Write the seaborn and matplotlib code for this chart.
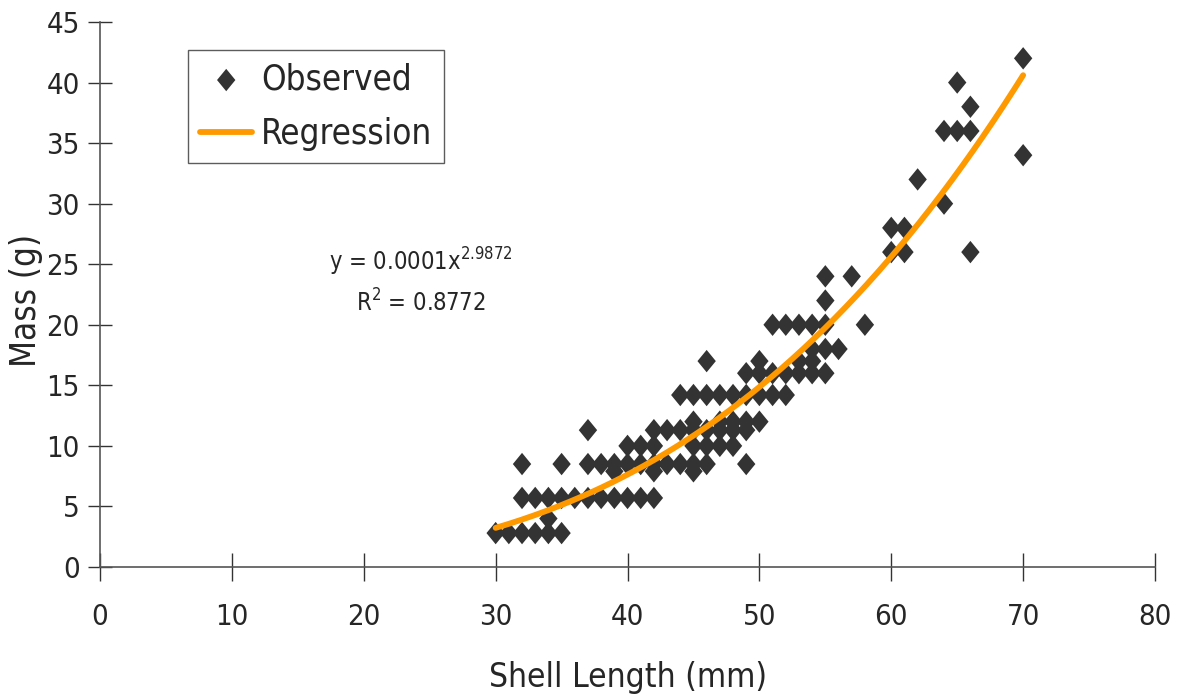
import numpy as np
import pandas as pd
import matplotlib.pyplot as plt
import seaborn as sns

# shell length (mm) and mass (g)
shell_length = [
    30, 31, 32, 32, 32, 33, 33, 34, 34, 34, 35, 35, 35,
    36, 37, 37, 37, 38, 38, 39, 39, 39, 40, 40, 40,
    41, 41, 41, 42, 42, 42, 42, 42, 43, 43, 44, 44, 44,
    45, 45, 45, 45, 45, 45, 46, 46, 46, 46, 46,
    47, 47, 47, 47, 48, 48, 48, 48, 49, 49, 49, 49, 49,
    50, 50, 50, 50, 51, 51, 51, 52, 52, 52, 53, 53, 53,
    54, 54, 54, 54, 55, 55, 55, 55, 55, 56, 57, 58,
    60, 60, 61, 61, 62, 64, 64, 65, 65, 66, 66, 66, 70, 70,
]
mass = [
    2.8, 2.8, 2.8, 5.7, 8.5, 2.8, 5.7, 2.8, 4.0, 5.7, 2.8, 5.7, 8.5,
    5.7, 5.7, 8.5, 11.3, 5.7, 8.5, 5.7, 7.9, 8.5, 5.7, 8.5, 10,
    5.7, 8.5, 10, 5.7, 7.9, 8.5, 10, 11.3, 8.5, 11.3, 8.5, 11.3, 14.2,
    7.9, 8.5, 10, 11.3, 12, 14.2, 8.5, 10, 11.3, 14.2, 17,
    10, 11.3, 12, 14.2, 10, 11.3, 12, 14.2, 8.5, 11.3, 12, 14.2, 16,
    12, 14.2, 16, 17, 14.2, 16, 20, 14.2, 16, 20, 16, 17, 20,
    16, 17, 18, 20, 16, 18, 20, 22, 24, 18, 24, 20,
    26, 28, 26, 28, 32, 30, 36, 36, 40, 26, 36, 38, 34, 42,
]

# power trendline y = a * x^b (exponent from the chart label, coefficient unrounded)
reg_coef = 0.000125
reg_exp = 2.9872

df = pd.DataFrame({"length": shell_length, "mass": mass})
fit_x = np.linspace(min(shell_length), max(shell_length), 200)
fit = pd.DataFrame({"length": fit_x, "mass": reg_coef * fit_x ** reg_exp})

sns.set_theme(style="white")
plt.rcParams["font.family"] = ["DejaVu Sans"]
plt.rcParams["font.stretch"] = "condensed"
plt.rcParams["mathtext.default"] = "regular"

fig = plt.figure(figsize=(11.81, 7), dpi=100)
ax = fig.add_axes([0.0847, 0.19, 0.8933, 0.7786])

diamond = [(0, 1), (0.82, 0), (0, -1), (-0.82, 0), (0, 1)]
sns.scatterplot(data=df, x="length", y="mass", ax=ax, marker=diamond, s=260,
                color="#333333", edgecolor="none", label="Observed", zorder=2)
sns.lineplot(data=fit, x="length", y="mass", ax=ax, color="#FF9900",
             linewidth=4.2, label="Regression", zorder=3)

ax.set_xlim(0, 80)
ax.set_ylim(0, 45)
ax.set_xticks(range(0, 81, 10))
ax.set_yticks(range(0, 46, 5))
ax.tick_params(axis="x", bottom=True, direction="inout", length=20, width=1,
               color="#333333", pad=16, labelsize=21)
ax.tick_params(axis="y", left=True, direction="inout", length=17, width=1,
               color="#333333", pad=6, labelsize=21)
for side in ["top", "right"]:
    ax.spines[side].set_visible(False)
for side in ["left", "bottom"]:
    ax.spines[side].set_color("#555555")
    ax.spines[side].set_linewidth(1.2)

ax.set_xlabel("Shell Length (mm)", fontsize=24)
ax.set_ylabel("Mass (g)", fontsize=25)
ax.xaxis.set_label_coords(0.5, -0.172)
ax.yaxis.set_label_coords(-0.054, 0.49)

ax.text(24.3, 25.2, "y = 0.0001x$^{2.9872}$", fontsize=17, ha="center", va="center")
ax.text(24.3, 21.8, "R$^{2}$ = 0.8772", fontsize=17, ha="center", va="center")

leg = ax.legend(loc="upper left", bbox_to_anchor=(0.0834, 0.9486), borderaxespad=0,
                fontsize=25, frameon=True, fancybox=False, edgecolor="#333333",
                handlelength=1.5, handletextpad=0.25, borderpad=0.35,
                labelspacing=0.6)
leg.get_frame().set_linewidth(1)

fig.savefig("out.png", dpi=100)
